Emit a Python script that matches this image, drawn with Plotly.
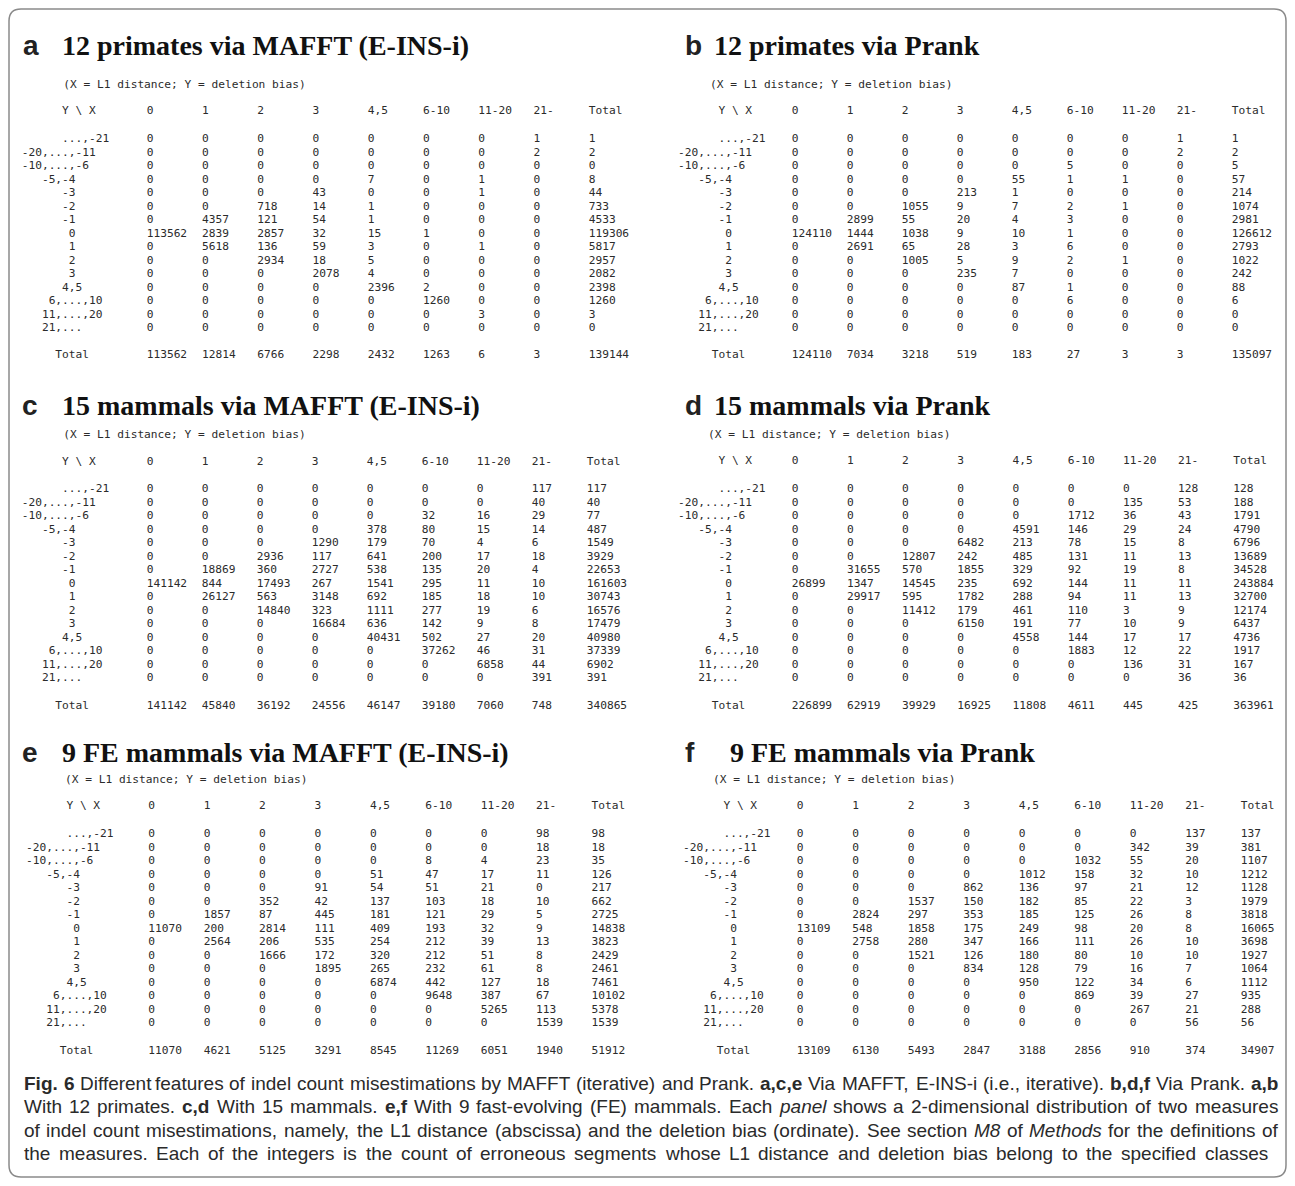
import plotly.graph_objects as go

W, H = 1295, 1186          # browser window
OFF = 8                    # default body margin of the html page
FW, FH = W - 2 * OFF, H - 2 * OFF

# ---------------- data ----------------
x_classes = ["0", "1", "2", "3", "4,5", "6-10", "11-20", "21-", "Total"]
# row labels, written as in the monospace source table (leading blanks kept)
y_classes = ["      ...,-21", "-20,...,-11", "-10,...,-6", "   -5,-4", "      -3", "      -2",
             "      -1", "       0", "       1", "       2", "       3", "      4,5",
             "    6,...,10", "   11,...,20", "   21,..."]
corner_label = "      Y \\ X"
total_label = "     Total"
subtitle = "(X = L1 distance; Y = deletion bias)"

a_counts = [
    [0, 0, 0, 0, 0, 0, 0, 1], [0, 0, 0, 0, 0, 0, 0, 2], [0, 0, 0, 0, 0, 0, 0, 0],
    [0, 0, 0, 0, 7, 0, 1, 0], [0, 0, 0, 43, 0, 0, 1, 0], [0, 0, 718, 14, 1, 0, 0, 0],
    [0, 4357, 121, 54, 1, 0, 0, 0], [113562, 2839, 2857, 32, 15, 1, 0, 0],
    [0, 5618, 136, 59, 3, 0, 1, 0], [0, 0, 2934, 18, 5, 0, 0, 0], [0, 0, 0, 2078, 4, 0, 0, 0],
    [0, 0, 0, 0, 2396, 2, 0, 0], [0, 0, 0, 0, 0, 1260, 0, 0], [0, 0, 0, 0, 0, 0, 3, 0],
    [0, 0, 0, 0, 0, 0, 0, 0]]
a_row_totals = [1, 2, 0, 8, 44, 733, 4533, 119306, 5817, 2957, 2082, 2398, 1260, 3, 0]
a_col_totals = [113562, 12814, 6766, 2298, 2432, 1263, 6, 3, 139144]

b_counts = [
    [0, 0, 0, 0, 0, 0, 0, 1], [0, 0, 0, 0, 0, 0, 0, 2], [0, 0, 0, 0, 0, 5, 0, 0],
    [0, 0, 0, 0, 55, 1, 1, 0], [0, 0, 0, 213, 1, 0, 0, 0], [0, 0, 1055, 9, 7, 2, 1, 0],
    [0, 2899, 55, 20, 4, 3, 0, 0], [124110, 1444, 1038, 9, 10, 1, 0, 0],
    [0, 2691, 65, 28, 3, 6, 0, 0], [0, 0, 1005, 5, 9, 2, 1, 0], [0, 0, 0, 235, 7, 0, 0, 0],
    [0, 0, 0, 0, 87, 1, 0, 0], [0, 0, 0, 0, 0, 6, 0, 0], [0, 0, 0, 0, 0, 0, 0, 0],
    [0, 0, 0, 0, 0, 0, 0, 0]]
b_row_totals = [1, 2, 5, 57, 214, 1074, 2981, 126612, 2793, 1022, 242, 88, 6, 0, 0]
b_col_totals = [124110, 7034, 3218, 519, 183, 27, 3, 3, 135097]

c_counts = [
    [0, 0, 0, 0, 0, 0, 0, 117], [0, 0, 0, 0, 0, 0, 0, 40], [0, 0, 0, 0, 0, 32, 16, 29],
    [0, 0, 0, 0, 378, 80, 15, 14], [0, 0, 0, 1290, 179, 70, 4, 6],
    [0, 0, 2936, 117, 641, 200, 17, 18], [0, 18869, 360, 2727, 538, 135, 20, 4],
    [141142, 844, 17493, 267, 1541, 295, 11, 10], [0, 26127, 563, 3148, 692, 185, 18, 10],
    [0, 0, 14840, 323, 1111, 277, 19, 6], [0, 0, 0, 16684, 636, 142, 9, 8],
    [0, 0, 0, 0, 40431, 502, 27, 20], [0, 0, 0, 0, 0, 37262, 46, 31],
    [0, 0, 0, 0, 0, 0, 6858, 44], [0, 0, 0, 0, 0, 0, 0, 391]]
c_row_totals = [117, 40, 77, 487, 1549, 3929, 22653, 161603, 30743, 16576, 17479, 40980,
                37339, 6902, 391]
c_col_totals = [141142, 45840, 36192, 24556, 46147, 39180, 7060, 748, 340865]

d_counts = [
    [0, 0, 0, 0, 0, 0, 0, 128], [0, 0, 0, 0, 0, 0, 135, 53], [0, 0, 0, 0, 0, 1712, 36, 43],
    [0, 0, 0, 0, 4591, 146, 29, 24], [0, 0, 0, 6482, 213, 78, 15, 8],
    [0, 0, 12807, 242, 485, 131, 11, 13], [0, 31655, 570, 1855, 329, 92, 19, 8],
    [26899, 1347, 14545, 235, 692, 144, 11, 11], [0, 29917, 595, 1782, 288, 94, 11, 13],
    [0, 0, 11412, 179, 461, 110, 3, 9], [0, 0, 0, 6150, 191, 77, 10, 9],
    [0, 0, 0, 0, 4558, 144, 17, 17], [0, 0, 0, 0, 0, 1883, 12, 22],
    [0, 0, 0, 0, 0, 0, 136, 31], [0, 0, 0, 0, 0, 0, 0, 36]]
d_row_totals = [128, 188, 1791, 4790, 6796, 13689, 34528, 243884, 32700, 12174, 6437, 4736,
                1917, 167, 36]
d_col_totals = [226899, 62919, 39929, 16925, 11808, 4611, 445, 425, 363961]

e_counts = [
    [0, 0, 0, 0, 0, 0, 0, 98], [0, 0, 0, 0, 0, 0, 0, 18], [0, 0, 0, 0, 0, 8, 4, 23],
    [0, 0, 0, 0, 51, 47, 17, 11], [0, 0, 0, 91, 54, 51, 21, 0],
    [0, 0, 352, 42, 137, 103, 18, 10], [0, 1857, 87, 445, 181, 121, 29, 5],
    [11070, 200, 2814, 111, 409, 193, 32, 9], [0, 2564, 206, 535, 254, 212, 39, 13],
    [0, 0, 1666, 172, 320, 212, 51, 8], [0, 0, 0, 1895, 265, 232, 61, 8],
    [0, 0, 0, 0, 6874, 442, 127, 18], [0, 0, 0, 0, 0, 9648, 387, 67],
    [0, 0, 0, 0, 0, 0, 5265, 113], [0, 0, 0, 0, 0, 0, 0, 1539]]
e_row_totals = [98, 18, 35, 126, 217, 662, 2725, 14838, 3823, 2429, 2461, 7461, 10102, 5378, 1539]
e_col_totals = [11070, 4621, 5125, 3291, 8545, 11269, 6051, 1940, 51912]

f_counts = [
    [0, 0, 0, 0, 0, 0, 0, 137], [0, 0, 0, 0, 0, 0, 342, 39], [0, 0, 0, 0, 0, 1032, 55, 20],
    [0, 0, 0, 0, 1012, 158, 32, 10], [0, 0, 0, 862, 136, 97, 21, 12],
    [0, 0, 1537, 150, 182, 85, 22, 3], [0, 2824, 297, 353, 185, 125, 26, 8],
    [13109, 548, 1858, 175, 249, 98, 20, 8], [0, 2758, 280, 347, 166, 111, 26, 10],
    [0, 0, 1521, 126, 180, 80, 10, 10], [0, 0, 0, 834, 128, 79, 16, 7],
    [0, 0, 0, 0, 950, 122, 34, 6], [0, 0, 0, 0, 0, 869, 39, 27],
    [0, 0, 0, 0, 0, 0, 267, 21], [0, 0, 0, 0, 0, 0, 0, 56]]
f_row_totals = [137, 381, 1107, 1212, 1128, 1979, 3818, 16065, 3698, 1927, 1064, 1112, 935, 288, 56]
f_col_totals = [13109, 6130, 5493, 2847, 3188, 2856, 910, 374, 34907]

panel_letters = ["a", "b", "c", "d", "e", "f"]
panel_titles = ["12 primates via MAFFT (E-INS-i)", "12 primates via Prank",
                "15 mammals via MAFFT (E-INS-i)", "15 mammals via Prank",
                "9 FE mammals via MAFFT (E-INS-i)", "9 FE mammals via Prank"]
panel_counts = [a_counts, b_counts, c_counts, d_counts, e_counts, f_counts]
panel_row_totals = [a_row_totals, b_row_totals, c_row_totals, d_row_totals, e_row_totals, f_row_totals]
panel_col_totals = [a_col_totals, b_col_totals, c_col_totals, d_col_totals, e_col_totals, f_col_totals]

caption_lines = [
    "<b>Fig.</b> <b>6</b> Different features of indel count misestimations by MAFFT (iterative) and Prank. "
    "<b>a,c,e</b> Via MAFFT, E-INS-i (i.e., iterative). <b>b,d,f</b> Via Prank. <b>a,b</b>",
    "With 12 primates. <b>c,d</b> With 15 mammals. <b>e,f</b> With 9 fast-evolving (FE) mammals. "
    "Each <i>panel</i> shows a 2-dimensional distribution of two measures",
    "of indel count misestimations, namely, the L1 distance (abscissa) and the deletion bias "
    "(ordinate). See section <i>M8</i> of <i>Methods</i> for the definitions of",
    "the measures. Each of the integers is the count of erroneous segments whose L1 distance "
    "and deletion bias belong to the specified classes",
]

# ---------------- layout geometry (page pixels) ----------------
geom = [
    dict(lab=21.7, col0=146.7, cs=55.25, row0=139.3, sub=63.3, box=(12, 648, 62, 372), ty=45, lx=21, tx=60),
    dict(lab=678.0, col0=791.7, cs=55.0, row0=139.3, sub=710.0, box=(662, 1285, 62, 372), ty=45, lx=683, tx=712),
    dict(lab=21.7, col0=146.7, cs=55.0, row0=489.7, sub=63.3, box=(12, 648, 418, 722), ty=405, lx=20, tx=60),
    dict(lab=678.0, col0=791.7, cs=55.2, row0=489.3, sub=708.0, box=(662, 1285, 418, 722), ty=405, lx=683, tx=712),
    dict(lab=26.0, col0=148.3, cs=55.4, row0=834.3, sub=65.0, box=(12, 648, 764, 1066), ty=752, lx=20, tx=60),
    dict(lab=683.0, col0=796.7, cs=55.5, row0=834.3, sub=713.0, box=(662, 1285, 764, 1066), ty=752, lx=683, tx=728),
]
ROW_STEP = 13.5
HEADER_ROW = -2.05
SUB_ROW = -4.0
TOTAL_ROW = 16.03

MONO = "DejaVu Sans Mono"
TXT = "#2b2b2b"
tfont = dict(family=MONO, size=11.2, color=TXT)
NB = "\u00a0"


def keep_blanks(s):
    return s.replace(" ", NB)


def px(x):
    return (x - OFF) / FW


def py(y):
    return 1 - (y - OFF) / FH


fig = go.Figure()
layout_axes = {}
annotations = []

for i in range(6):
    g = geom[i]
    n = "" if i == 0 else str(i + 1)
    xa, ya = "x" + n, "y" + n
    counts = panel_counts[i]
    rtot = panel_row_totals[i]
    ctot = panel_col_totals[i]
    nrows = len(counts)
    ncols = len(counts[0])

    common = dict(mode="text", textposition="middle right", textfont=tfont,
                  xaxis=xa, yaxis=ya, hoverinfo="skip", showlegend=False, cliponaxis=False)

    xs, ys, ts = [], [], []
    for r in range(nrows):
        for c in range(ncols):
            xs.append(c)
            ys.append(r)
            ts.append(str(counts[r][c]))
    fig.add_trace(go.Scatter(x=xs, y=ys, text=ts, **common))
    fig.add_trace(go.Scatter(x=[ncols] * nrows, y=list(range(nrows)),
                             text=[str(v) for v in rtot], **common))
    fig.add_trace(go.Scatter(x=list(range(len(ctot))), y=[TOTAL_ROW] * len(ctot),
                             text=[str(v) for v in ctot], **common))
    fig.add_trace(go.Scatter(x=list(range(len(x_classes))), y=[HEADER_ROW] * len(x_classes),
                             text=x_classes, **common))
    lab_x = (g["lab"] - g["col0"]) / g["cs"]
    fig.add_trace(go.Scatter(x=[lab_x] * (nrows + 2),
                             y=[HEADER_ROW] + list(range(nrows)) + [TOTAL_ROW],
                             text=[keep_blanks(corner_label)] + [keep_blanks(s) for s in y_classes]
                             + [keep_blanks(total_label)], **common))
    sub_x = (g["sub"] - g["col0"]) / g["cs"]
    fig.add_trace(go.Scatter(x=[sub_x], y=[SUB_ROW], text=[subtitle], **common))

    x0, x1, y0, y1 = g["box"]
    layout_axes["xaxis" + n] = dict(domain=[px(x0), px(x1)],
                                    range=[(x0 - g["col0"]) / g["cs"], (x1 - g["col0"]) / g["cs"]],
                                    visible=False, fixedrange=True, anchor=ya)
    layout_axes["yaxis" + n] = dict(domain=[py(y1), py(y0)],
                                    range=[(y1 - g["row0"]) / ROW_STEP, (y0 - g["row0"]) / ROW_STEP],
                                    visible=False, fixedrange=True, anchor=xa)

    annotations.append(dict(x=px(g["lx"]), y=py(g["ty"]), xref="paper", yref="paper",
                            xanchor="left", yanchor="middle", showarrow=False,
                            text="<b>" + panel_letters[i] + "</b>",
                            font=dict(family="Liberation Sans", size=28, color="#222")))
    annotations.append(dict(x=px(g["tx"]), y=py(g["ty"]), xref="paper", yref="paper",
                            xanchor="left", yanchor="middle", showarrow=False,
                            text="<b>" + panel_titles[i] + "</b>",
                            font=dict(family="Liberation Serif", size=28, color="#111")))

# ---------------- justified caption (Arial/Helvetica metrics) ----------------
REG = {" ": 278, ".": 278, ",": 278, "(": 333, ")": 333, "-": 333,
       "A": 667, "E": 667, "F": 611, "I": 278, "L": 556, "M": 833, "N": 722, "P": 667,
       "S": 667, "T": 611, "V": 667, "W": 944,
       "a": 556, "b": 556, "c": 500, "d": 556, "e": 556, "f": 278, "g": 556, "h": 556,
       "i": 222, "j": 222, "k": 500, "l": 222, "m": 833, "n": 556, "o": 556, "p": 556,
       "q": 556, "r": 333, "s": 500, "t": 278, "u": 556, "v": 500, "w": 722, "x": 500,
       "y": 500, "z": 500}
BOLD = {"F": 611, "a": 556, "b": 611, "c": 556, "d": 611, "e": 556, "f": 333, "g": 611,
        "i": 278, ".": 278, ",": 278}
CAP_FS = 19
CAP_LEFT = 22
cap_y = [1083, 1106.5, 1130, 1153.5]
cap_right = [1276, 1276, 1276, 1266]


def word_width(w):
    bold = w.startswith("<b>")
    plain = w.replace("<b>", "").replace("</b>", "").replace("<i>", "").replace("</i>", "")
    tot = 0
    for ch in plain:
        if ch.isdigit():
            tot += 556
        elif bold:
            tot += BOLD.get(ch, REG.get(ch, 556))
        else:
            tot += REG.get(ch, 556)
    return tot * CAP_FS / 1000.0


for k, line in enumerate(caption_lines):
    words = line.split(" ")
    widths = [word_width(w) for w in words]
    gap = (cap_right[k] - CAP_LEFT - sum(widths)) / (len(words) - 1)
    x = CAP_LEFT
    for w, ww in zip(words, widths):
        annotations.append(dict(x=px(x), y=py(cap_y[k]), xref="paper", yref="paper",
                                xanchor="left", yanchor="middle", showarrow=False, text=w,
                                font=dict(family="Liberation Sans", size=CAP_FS, color="#2a2a2a")))
        x += ww + gap

# rounded outer frame
L, R, T, B, rad = 9, 1286, 9, 1177, 12
path = (f"M {px(L + rad)} {py(T)} L {px(R - rad)} {py(T)} Q {px(R)} {py(T)} {px(R)} {py(T + rad)} "
        f"L {px(R)} {py(B - rad)} Q {px(R)} {py(B)} {px(R - rad)} {py(B)} "
        f"L {px(L + rad)} {py(B)} Q {px(L)} {py(B)} {px(L)} {py(B - rad)} "
        f"L {px(L)} {py(T + rad)} Q {px(L)} {py(T)} {px(L + rad)} {py(T)} Z")

fig.update_layout(
    width=FW, height=FH,
    margin=dict(l=0, r=0, t=0, b=0),
    paper_bgcolor="white", plot_bgcolor="rgba(0,0,0,0)",
    annotations=annotations,
    shapes=[dict(type="path", xref="paper", yref="paper", path=path,
                 line=dict(color="#8a8a8a", width=1.5), fillcolor="rgba(0,0,0,0)")],
    **layout_axes,
)

fig.write_html("out.html")
